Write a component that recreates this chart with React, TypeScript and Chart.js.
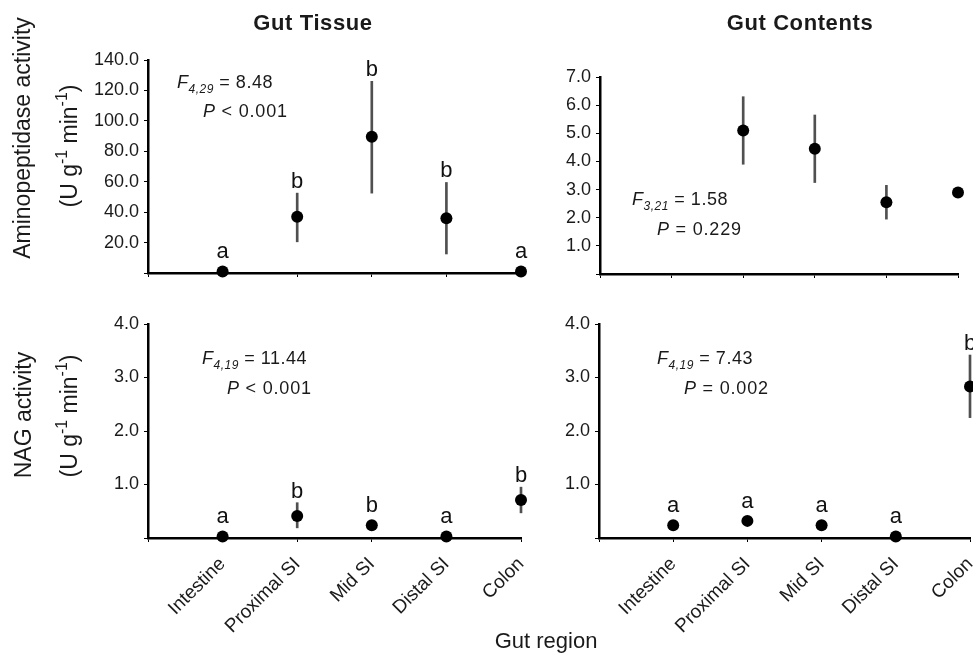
import React, { useEffect, useRef } from 'react';
import { Chart, registerables } from 'chart.js';
Chart.register(...registerables);

const FONT = '"Liberation Sans", Arial, Helvetica, sans-serif';
const CW = 1000;
const CH = 658;

// Category labels (first slot is the empty position at the y axis)
const categories = ['', 'Intestine', 'Proximal SI', 'Mid SI', 'Distal SI', 'Colon'];

// Gut tissue – aminopeptidase (U g-1 min-1)
const tissueAminoMean = [null, 1.0, 37.0, 89.5, 36.0, 1.0];
const tissueAminoLow = [null, null, 20.5, 52.5, 12.5, null];
const tissueAminoHigh = [null, null, 52.5, 126.0, 59.5, null];
const tissueAminoLetters = ['', 'a', 'b', 'b', 'b', 'a'];

// Gut contents – aminopeptidase
const contentsAminoMean = [null, null, 5.1, 4.45, 2.55, 2.9];
const contentsAminoLow = [null, null, 3.9, 3.25, 1.95, null];
const contentsAminoHigh = [null, null, 6.3, 5.65, 3.15, null];
const contentsAminoLetters = ['', '', '', '', '', ''];

// Gut tissue – NAG
const tissueNagMean = [null, 0.03, 0.41, 0.24, 0.03, 0.71];
const tissueNagLow = [null, null, 0.19, null, null, 0.47];
const tissueNagHigh = [null, null, 0.66, null, null, 0.95];
const tissueNagLetters = ['', 'a', 'b', 'b', 'a', 'b'];

// Gut contents – NAG
const contentsNagMean = [null, 0.24, 0.32, 0.24, 0.03, 2.83];
const contentsNagLow = [null, 0.17, 0.26, 0.19, null, 2.25];
const contentsNagHigh = [null, 0.31, 0.38, 0.29, null, 3.42];
const contentsNagLetters = ['', 'a', 'a', 'a', 'a', 'b'];

type Part = { t: string; italic?: boolean; sub?: boolean; sup?: boolean; bold?: boolean };
type TextItem = { parts: Part[]; x: number; y: number; size: number; align?: 'left' | 'center'; rotate?: boolean; spacing?: number };

const unitParts: Part[] = [
  { t: '(U g' }, { t: '-1', sup: true }, { t: ' min' }, { t: '-1', sup: true }, { t: ')' },
];

const panels = [
  {
    mean: tissueAminoMean, low: tissueAminoLow, high: tissueAminoHigh, letters: tissueAminoLetters,
    max: 140, step: 20, area: { left: 148, right: 521, top: 60, bottom: 273 }, showX: false,
    texts: [
      { parts: [{ t: 'Gut Tissue', bold: true }], x: 313, y: 30, size: 22, align: 'center', spacing: 0.6 },
      { parts: [{ t: 'Aminopeptidase activity' }], x: 24, y: 138, size: 23, align: 'center', rotate: true },
      { parts: unitParts, x: 71, y: 146, size: 23, align: 'center', rotate: true },
      { parts: [{ t: 'F', italic: true }, { t: '4,29', italic: true, sub: true }, { t: ' = 8.48' }], x: 177, y: 88, size: 18, spacing: 0.5 },
      { parts: [{ t: 'P', italic: true }, { t: ' < 0.001' }], x: 203, y: 117, size: 18, spacing: 0.8 },
    ] as TextItem[],
  },
  {
    mean: contentsAminoMean, low: contentsAminoLow, high: contentsAminoHigh, letters: contentsAminoLetters,
    max: 7, step: 1, area: { left: 600, right: 958, top: 77, bottom: 274 }, showX: false,
    texts: [
      { parts: [{ t: 'Gut Contents', bold: true }], x: 800, y: 30, size: 22, align: 'center', spacing: 0.6 },
      { parts: [{ t: 'F', italic: true }, { t: '3,21', italic: true, sub: true }, { t: ' = 1.58' }], x: 632, y: 205, size: 18, spacing: 0.5 },
      { parts: [{ t: 'P', italic: true }, { t: ' = 0.229' }], x: 657, y: 235, size: 18, spacing: 0.8 },
    ] as TextItem[],
  },
  {
    mean: tissueNagMean, low: tissueNagLow, high: tissueNagHigh, letters: tissueNagLetters,
    max: 4, step: 1, area: { left: 148, right: 521, top: 324, bottom: 538 }, showX: true,
    texts: [
      { parts: [{ t: 'NAG activity' }], x: 25, y: 415, size: 23, align: 'center', rotate: true },
      { parts: unitParts, x: 71, y: 416, size: 23, align: 'center', rotate: true },
      { parts: [{ t: 'F', italic: true }, { t: '4,19', italic: true, sub: true }, { t: ' = 11.44' }], x: 202, y: 364, size: 18, spacing: 0.5 },
      { parts: [{ t: 'P', italic: true }, { t: ' < 0.001' }], x: 227, y: 394, size: 18, spacing: 0.8 },
      { parts: [{ t: 'Gut region' }], x: 546, y: 648, size: 22, align: 'center' },
    ] as TextItem[],
  },
  {
    mean: contentsNagMean, low: contentsNagLow, high: contentsNagHigh, letters: contentsNagLetters,
    max: 4, step: 1, area: { left: 599, right: 970, top: 324, bottom: 538 }, showX: true,
    texts: [
      { parts: [{ t: 'F', italic: true }, { t: '4,19', italic: true, sub: true }, { t: ' = 7.43' }], x: 657, y: 364, size: 18, spacing: 0.5 },
      { parts: [{ t: 'P', italic: true }, { t: ' = 0.002' }], x: 684, y: 394, size: 18, spacing: 0.8 },
    ] as TextItem[],
  },
];

function partFont(p: Part, size: number) {
  const s = p.sub || p.sup ? Math.round(size * 0.68) : size;
  return `${p.italic ? 'italic ' : ''}${p.bold ? 'bold ' : ''}${s}px ${FONT}`;
}

function drawRich(ctx: CanvasRenderingContext2D, item: TextItem) {
  ctx.save();
  ctx.fillStyle = '#1a1a1a';
  ctx.textBaseline = item.rotate ? 'middle' : 'alphabetic';
  ctx.textAlign = 'left';
  (ctx as any).letterSpacing = `${item.spacing || 0}px`;
  let total = 0;
  for (const p of item.parts) {
    ctx.font = partFont(p, item.size);
    total += ctx.measureText(p.t).width;
  }
  ctx.translate(item.x, item.y);
  if (item.rotate) ctx.rotate(-Math.PI / 2);
  let cx = item.align === 'center' ? -total / 2 : 0;
  for (const p of item.parts) {
    ctx.font = partFont(p, item.size);
    const dy = p.sub ? item.size * 0.25 : p.sup ? -item.size * 0.38 : 0;
    ctx.fillText(p.t, cx, dy);
    cx += ctx.measureText(p.t).width;
  }
  ctx.restore();
}

function makeConfig(p: any) {
  const errData = p.low.map((l: number | null, i: number) =>
    l == null || p.high[i] == null ? null : [l, p.high[i]]
  );
  const annotate = {
    id: 'annotate',
    afterDraw(chart: any) {
      const ctx = chart.ctx as CanvasRenderingContext2D;
      const xs = chart.scales.x;
      const ys = chart.scales.y;
      ctx.save();
      ctx.fillStyle = '#111';
      ctx.font = `22px ${FONT}`;
      ctx.textAlign = 'center';
      ctx.textBaseline = 'alphabetic';
      p.letters.forEach((L: string, i: number) => {
        if (!L || p.mean[i] == null) return;
        const x = xs.getPixelForValue(i);
        const py = ys.getPixelForValue(p.mean[i]);
        let base = py - 13;
        if (p.high[i] != null) base = Math.min(base, ys.getPixelForValue(p.high[i]) - 5);
        ctx.fillText(L, x, base);
      });
      ctx.restore();
      p.texts.forEach((t: TextItem) => drawRich(ctx, t));
    },
  };
  return {
    type: 'bar',
    data: {
      labels: categories,
      datasets: [
        {
          type: 'line', data: p.mean, showLine: false, pointRadius: 6, pointHoverRadius: 6,
          pointBackgroundColor: '#000', pointBorderColor: '#000', borderColor: '#000', pointBorderWidth: 0,
          clip: false, order: 0,
        },
        {
          type: 'bar', data: errData, backgroundColor: '#505050', borderWidth: 0,
          barThickness: 2, clip: false, order: 1,
        },
      ],
    },
    options: {
      responsive: false,
      animation: false,
      devicePixelRatio: 1,
      events: [],
      layout: { padding: { left: 0, top: p.area.top, right: CW - p.area.right, bottom: 0 } },
      plugins: { legend: { display: false }, tooltip: { enabled: false }, title: { display: false } },
      scales: {
        x: {
          type: 'category', offset: false,
          grid: { display: true, drawOnChartArea: false, drawTicks: true, tickLength: 4, color: '#000', lineWidth: 1, offset: false },
          border: { display: true, color: '#000', width: 2.5 },
          ticks: {
            display: p.showX, autoSkip: false, maxRotation: 45, minRotation: 45, padding: 11,
            color: '#1a1a1a', font: { family: FONT, size: 19 },
          },
          afterFit: (s: any) => { s.height = CH - p.area.bottom; },
        },
        y: {
          type: 'linear', min: 0, max: p.max,
          grid: { display: true, drawOnChartArea: false, drawTicks: true, tickLength: 4, color: '#000', lineWidth: 1 },
          border: { display: true, color: '#000', width: 2.5 },
          ticks: {
            stepSize: p.step, padding: 5, color: '#1a1a1a', font: { family: FONT, size: 18 },
            callback: (v: number) => (v === 0 ? '' : Number(v).toFixed(1)),
          },
          afterFit: (s: any) => { s.width = p.area.left; },
        },
      },
    },
    plugins: [annotate],
  };
}

export default function App() {
  const canvasRefs = useRef<(HTMLCanvasElement | null)[]>([]);
  useEffect(() => {
    const charts = panels.map((p, i) => new Chart(canvasRefs.current[i] as HTMLCanvasElement, makeConfig(p) as any));
    return () => charts.forEach((c) => c.destroy());
  }, []);
  return (
    <div style={{ position: 'fixed', left: 0, top: 0, width: 973, height: 658, overflow: 'hidden', background: '#fff' }}>
      {panels.map((_, i) => (
        <canvas
          key={i}
          ref={(el) => { canvasRefs.current[i] = el; }}
          width={CW}
          height={CH}
          style={{ position: 'absolute', left: 0, top: 0 }}
        />
      ))}
    </div>
  );
}
